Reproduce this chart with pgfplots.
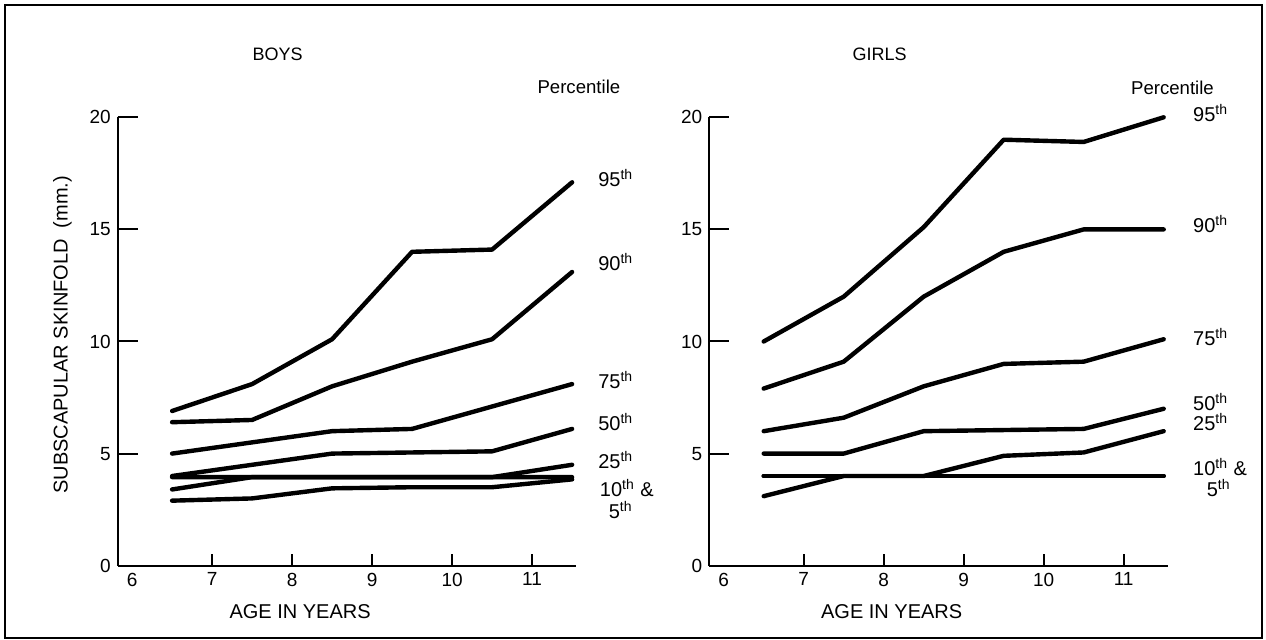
\documentclass[border=0pt]{standalone}
\usepackage{fontspec}
\setmainfont{Liberation Sans}
\usepackage{pgfplots}
\pgfplotsset{compat=1.18}

\pgfplotsset{
  panel/.style={
    scale only axis, width=229.2pt, height=224.2pt,
    xmin=5.82, xmax=11.55, ymin=0, ymax=20,
    axis x line*=bottom, axis y line*=left,
    axis line style={-, line width=1pt, black},
    xtick={6,...,11}, ytick={0,5,...,20},
    xtick pos=bottom, ytick pos=left,
    tick align=inside, major tick length=10pt,
    xtick style={draw=none},
    ytick style={draw=black, line width=1pt},
    tick label style={font=\fontsize{9.5}{11}\selectfont},
    /pgf/number format/assume math mode=true,
    clip=false,
    cycle list={{black}},
    every axis plot post/.append style={line width=2.2pt, black, mark=none, solid, line join=round, line cap=round},
  },
  xticks/.style={
    scale only axis, width=229.2pt, height=224.2pt,
    xmin=5.82, xmax=11.55, ymin=0, ymax=20,
    axis x line*=bottom, axis y line=none,
    axis line style={-, line width=1pt, black},
    xtick={7,...,11}, xticklabels={}, ytick=\empty,
    xtick pos=bottom,
    tick align=inside, major tick length=6pt,
    xtick style={draw=black, line width=1pt},
  },
}
\tikzset{lab/.style={anchor=west, font=\fontsize{10}{12}\selectfont}}

\begin{document}
\begin{tikzpicture}
\path (0,0) rectangle (633pt,320pt);
\draw[line width=0.75pt] (2.5pt,1pt) rectangle (631pt,317.5pt);

% ---------------- BOYS ----------------
\begin{axis}[panel, at={(58.85pt,37.15pt)}, anchor=south west]
\addplot coordinates {(6.5,6.9) (7.5,8.1) (8.5,10.1) (9.5,14.0) (10.5,14.1) (11.5,17.1)};
\addplot coordinates {(6.5,6.4) (7.5,6.5) (8.5,8.0) (9.5,9.1) (10.5,10.1) (11.5,13.1)};
\addplot coordinates {(6.5,5.0) (7.5,5.5) (8.5,6.0) (9.5,6.1) (10.5,7.1) (11.5,8.1)};
\addplot coordinates {(6.5,4.0) (7.5,4.5) (8.5,5.0) (9.5,5.05) (10.5,5.1) (11.5,6.1)};
\addplot coordinates {(6.5,3.95) (7.5,3.95) (8.5,3.95) (9.5,3.95) (10.5,3.95) (11.5,4.5)};
\addplot coordinates {(6.5,3.4) (7.5,3.95) (8.5,3.95) (9.5,3.95) (10.5,3.95) (11.5,3.95)};
\addplot coordinates {(6.5,2.9) (7.5,3.0) (8.5,3.45) (9.5,3.5) (10.5,3.5) (11.5,3.85)};
\node[font=\fontsize{9}{11}\selectfont] at (axis cs:7.82,22.8) {BOYS};
\node[font=\fontsize{9.3}{11}\selectfont] at (axis cs:11.585,21.37) {Percentile};
\node[lab] at (axis cs:11.74,17.3) {95\textsuperscript{th}};
\node[lab] at (axis cs:11.74,13.55) {90\textsuperscript{th}};
\node[lab] at (axis cs:11.74,8.29) {75\textsuperscript{th}};
\node[lab] at (axis cs:11.74,6.42) {50\textsuperscript{th}};
\node[lab] at (axis cs:11.74,4.72) {25\textsuperscript{th}};
\node[lab] at (axis cs:11.76,3.47) {10\textsuperscript{th} \&};
\node[lab] at (axis cs:11.87,2.49) {5\textsuperscript{th}};
\node[rotate=90, font=\fontsize{10}{12}\selectfont] at (axis cs:5.13,10.3) {SUBSCAPULAR SKINFOLD\ \ (mm.)};
\node[font=\fontsize{10}{12}\selectfont] at (axis cs:8.1,-2.05) {AGE IN YEARS};
\end{axis}
\begin{axis}[xticks, at={(58.85pt,37.15pt)}, anchor=south west]
\end{axis}

% ---------------- GIRLS ----------------
\begin{axis}[panel, at={(354.65pt,37.15pt)}, anchor=south west]
\addplot coordinates {(6.5,10.0) (7.5,12.0) (8.5,15.1) (9.5,19.0) (10.5,18.9) (11.5,20.0)};
\addplot coordinates {(6.5,7.9) (7.5,9.1) (8.5,12.0) (9.5,14.0) (10.5,15.0) (11.5,15.0)};
\addplot coordinates {(6.5,6.0) (7.5,6.6) (8.5,8.0) (9.5,9.0) (10.5,9.1) (11.5,10.1)};
\addplot coordinates {(6.5,5.0) (7.5,5.0) (8.5,6.0) (9.5,6.05) (10.5,6.1) (11.5,7.0)};
\addplot coordinates {(6.5,3.1) (7.5,4.0) (8.5,4.0) (9.5,4.9) (10.5,5.05) (11.5,6.0)};
\addplot coordinates {(6.5,4.0) (7.5,4.0) (8.5,4.0) (9.5,4.0) (10.5,4.0) (11.5,4.0)};
\addplot coordinates {(6.5,4.0) (7.5,4.0) (8.5,4.0) (9.5,4.0) (10.5,4.0) (11.5,4.0)};
\node[font=\fontsize{9}{11}\selectfont] at (axis cs:7.95,22.8) {GIRLS};
\node[font=\fontsize{9.3}{11}\selectfont] at (axis cs:11.61,21.3) {Percentile};
\node[lab] at (axis cs:11.78,20.2) {95\textsuperscript{th}};
\node[lab] at (axis cs:11.78,15.25) {90\textsuperscript{th}};
\node[lab] at (axis cs:11.78,10.2) {75\textsuperscript{th}};
\node[lab] at (axis cs:11.78,7.3) {50\textsuperscript{th}};
\node[lab] at (axis cs:11.78,6.4) {25\textsuperscript{th}};
\node[lab] at (axis cs:11.78,4.4) {10\textsuperscript{th} \&};
\node[lab] at (axis cs:11.95,3.47) {5\textsuperscript{th}};
\node[font=\fontsize{10}{12}\selectfont] at (axis cs:8.1,-2.05) {AGE IN YEARS};
\end{axis}
\begin{axis}[xticks, at={(354.65pt,37.15pt)}, anchor=south west]
\end{axis}
\end{tikzpicture}
\end{document}
